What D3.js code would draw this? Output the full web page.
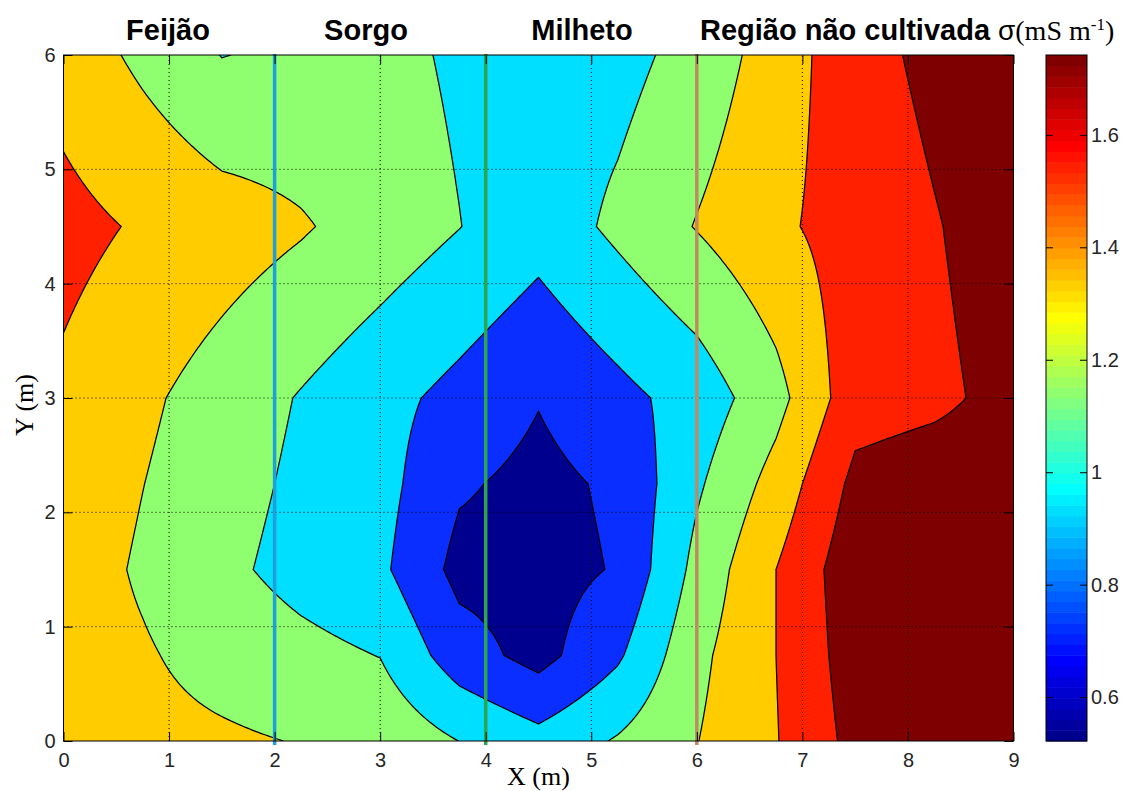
<!DOCTYPE html>
<html><head><meta charset="utf-8">
<script src="https://cdn.jsdelivr.net/npm/d3@7"></script>
<style>body{margin:0;background:#fff}svg{display:block}</style>
</head><body><svg id="chart" width="1132" height="791"></svg>
<script>
// ---------- data ----------
const xNodes = [0, 0.75, 1.5, 2.25, 3, 3.75, 4.5, 5.25, 6, 6.75, 7.5, 8.25, 9];
const yNodes = [0, 0.75, 1.5, 2.25, 3, 4.5, 6];
const sigmaY0   = [1.280, 1.256, 1.228, 1.192, 1.152, 0.998, 0.867, 1.018, 1.195, 1.390, 1.660, 1.720, 1.740];
const sigmaY075 = [1.290, 1.220, 1.130, 1.060, 0.995, 0.690, 0.530, 0.770, 1.150, 1.400, 1.700, 1.730, 1.740];
const sigmaY15  = [1.303, 1.174, 1.046, 0.930, 0.840, 0.540, 0.522, 0.615, 1.060, 1.400, 1.730, 1.740, 1.720];
const sigmaY225 = [1.330, 1.203, 1.080, 0.960, 0.870, 0.625, 0.545, 0.633, 0.970, 1.275, 1.650, 1.700, 1.700];
const sigmaY3   = [1.362, 1.237, 1.112, 0.987, 0.865, 0.740, 0.610, 0.743, 0.880, 1.132, 1.520, 1.560, 1.660];
const sigmaY45  = [1.462, 1.377, 1.298, 1.219, 1.116, 1.004, 0.880, 1.044, 1.210, 1.365, 1.480, 1.588, 1.697];
const sigmaY6   = [1.320, 1.155, 0.995, 1.040, 1.060, 0.970, 0.900, 0.930, 1.076, 1.292, 1.530, 1.647, 1.742];
const contourLevels = [0.6, 0.8, 1.0, 1.2, 1.4, 1.6];
const xTicks = [0, 1, 2, 3, 4, 5, 6, 7, 8, 9];
const yTicks = [0, 1, 2, 3, 4, 5, 6];
const colorbarTicks = [0.6, 0.8, 1.0, 1.2, 1.4, 1.6];
const sigmaRange = [0.522, 1.742];
const dividerX = [2, 4, 6];
const cropNames = ["Feijão", "Sorgo", "Milheto", "Região não cultivada"];

// ---------- styles ----------
const fillColors = ["#00008F", "#0A2EFF", "#00DFFF", "#8FFF6F", "#FFCC00", "#FF2000", "#7F0000"];
const dividerColors = ["#1EA0DC", "#2BA54E", "#C08A62"];
const sans = "'Liberation Sans', Arial, Helvetica, sans-serif";
const serif = "'Liberation Serif', 'Times New Roman', serif";

const svg = d3.select("#chart");
const x = d3.scaleLinear().domain([0, 9]).range([63.5, 1013.5]);
const y = d3.scaleLinear().domain([0, 6]).range([741, 55]);

// ---------- sampled surface for the contour routine ----------
const rows = [sigmaY0, sigmaY075, sigmaY15, sigmaY225, sigmaY3, sigmaY45, sigmaY6];
function sample(px, py) {
  const i = Math.min(Math.max(d3.bisectRight(xNodes, px) - 1, 0), xNodes.length - 2);
  const j = Math.min(Math.max(d3.bisectRight(yNodes, py) - 1, 0), yNodes.length - 2);
  const s = (px - xNodes[i]) / (xNodes[i + 1] - xNodes[i]);
  const t = (py - yNodes[j]) / (yNodes[j + 1] - yNodes[j]);
  const a = rows[j][i], b = rows[j][i + 1], c = rows[j + 1][i], d = rows[j + 1][i + 1];
  return a * (1 - s) * (1 - t) + b * s * (1 - t) + c * (1 - s) * t + d * s * t;
}
const h = 0.025;
const nx = Math.round(9 / h) + 1, ny = Math.round(6 / h) + 1;
const values = new Float64Array(nx * ny);
for (let j = 0; j < ny; j++) for (let i = 0; i < nx; i++) values[j * nx + i] = sample(i * h, j * h);

const contours = d3.contours().size([nx, ny]).thresholds(contourLevels)(values);
const proj = d3.geoTransform({
  point(px, py) { this.stream.point(x((px - 0.5) * h), y((py - 0.5) * h)); }
});
const path = d3.geoPath(proj);

svg.append("defs").append("clipPath").attr("id", "plotClip")
  .append("rect").attr("x", x(0)).attr("y", y(6)).attr("width", x(9) - x(0)).attr("height", y(0) - y(6));

const plot = svg.append("g").attr("clip-path", "url(#plotClip)");
plot.append("rect").attr("x", x(0)).attr("y", y(6)).attr("width", x(9) - x(0)).attr("height", y(0) - y(6))
  .attr("fill", fillColors[0]);
plot.selectAll("path.band").data(contours).join("path").attr("class", "band")
  .attr("d", path).attr("fill", (d, i) => fillColors[i + 1])
  .attr("stroke", "#000").attr("stroke-width", 1.25).attr("stroke-linejoin", "round");

// dotted grid
const grid = svg.append("g").attr("stroke", "#000").attr("stroke-width", 1).attr("stroke-dasharray", "1,3");
grid.selectAll("line.gx").data(xTicks.slice(1, -1)).join("line")
  .attr("x1", d => x(d)).attr("x2", d => x(d)).attr("y1", y(0)).attr("y2", y(6));
grid.selectAll("line.gy").data(yTicks.slice(1, -1)).join("line")
  .attr("y1", d => y(d)).attr("y2", d => y(d)).attr("x1", x(0)).attr("x2", x(9));

// divider lines
svg.selectAll("line.div").data(dividerX).join("line")
  .attr("x1", d => x(d)).attr("x2", d => x(d)).attr("y1", y(6) - 1).attr("y2", y(0) + 4)
  .attr("stroke", (d, i) => dividerColors[i]).attr("stroke-width", 3.5);

// axes box + ticks
function styleAxis(g, labels) {
  g.select(".domain").remove();
  g.selectAll(".tick line").attr("stroke", "#000");
  g.selectAll(".tick text").attr("font-family", sans).attr("font-size", 20).attr("fill", "#262626");
  if (!labels) g.selectAll(".tick text").remove();
}
const fmt = d3.format("~g");
svg.append("g").attr("transform", `translate(0,${y(0)})`)
  .call(d3.axisBottom(x).tickValues(xTicks).tickFormat(fmt).tickSize(-9).tickPadding(12)).call(g => styleAxis(g, true));
svg.append("g").attr("transform", `translate(0,${y(6)})`)
  .call(d3.axisTop(x).tickValues(xTicks).tickSize(-9)).call(g => styleAxis(g, false));
svg.append("g").attr("transform", `translate(${x(0)},0)`)
  .call(d3.axisLeft(y).tickValues(yTicks).tickFormat(fmt).tickSize(-9).tickPadding(8)).call(g => styleAxis(g, true));
svg.append("g").attr("transform", `translate(${x(9)},0)`)
  .call(d3.axisRight(y).tickValues(yTicks).tickSize(-9)).call(g => styleAxis(g, false));
svg.append("rect").attr("x", x(0)).attr("y", y(6)).attr("width", x(9) - x(0)).attr("height", y(0) - y(6))
  .attr("fill", "none").attr("stroke", "#000").attr("stroke-width", 1);

// axis labels
svg.append("text").attr("x", (x(0) + x(9)) / 2).attr("y", 785).attr("text-anchor", "middle")
  .attr("font-family", serif).attr("font-size", 26).text("X (m)");
svg.append("text").attr("transform", `translate(33,${(y(0) + y(6)) / 2 + 7}) rotate(-90)`).attr("text-anchor", "middle")
  .attr("font-family", serif).attr("font-size", 26).text("Y (m)");

// crop titles
const titleX = [168, 366, 582, 845];
svg.selectAll("text.crop").data(cropNames).join("text").attr("class", "crop")
  .attr("x", (d, i) => titleX[i]).attr("y", 40).attr("text-anchor", "middle")
  .attr("font-family", sans).attr("font-weight", "bold").attr("font-size", 29).attr("fill", "#000")
  .text(d => d);

// colorbar (jet, 64 colours)
function jet(v) {
  const m = 64;
  const idx = Math.min(m, Math.max(1, Math.floor(v * (m - 1) + 1e-9) + 1));
  const u = k => k <= 16 ? k / 16 : (k <= 31 ? 1 : (k <= 47 ? (48 - k) / 16 : 0));
  const r = idx >= 25 ? u(idx - 24) : 0;
  const g = (idx >= 9 && idx <= 55) ? u(idx - 8) : 0;
  const b = idx <= 39 ? u(idx + 8) : 0;
  return d3.rgb(r * 255, g * 255, b * 255);
}
const cbX0 = 1046, cbX1 = 1087;
const cy = d3.scaleLinear().domain(sigmaRange).range([741, 55]);
const bands = d3.range(64);
const bandH = (sigmaRange[1] - sigmaRange[0]) / 64;
svg.selectAll("rect.cb").data(bands).join("rect").attr("class", "cb")
  .attr("x", cbX0).attr("width", cbX1 - cbX0)
  .attr("y", d => cy(sigmaRange[0] + (d + 1) * bandH))
  .attr("height", d => cy(sigmaRange[0] + d * bandH) - cy(sigmaRange[0] + (d + 1) * bandH) + 0.5)
  .attr("fill", d => jet(d / 63));
svg.append("g").attr("transform", `translate(${cbX1},0)`)
  .call(d3.axisRight(cy).tickValues(colorbarTicks).tickFormat(fmt).tickSize(-7).tickPadding(4))
  .call(g => styleAxis(g, true));
svg.append("g").attr("transform", `translate(${cbX0},0)`)
  .call(d3.axisLeft(cy).tickValues(colorbarTicks).tickSize(-7)).call(g => styleAxis(g, false));
svg.append("rect").attr("x", cbX0).attr("y", cy(sigmaRange[1])).attr("width", cbX1 - cbX0)
  .attr("height", cy(sigmaRange[0]) - cy(sigmaRange[1])).attr("fill", "none").attr("stroke", "#000");

// colorbar title
const ct = svg.append("text").attr("x", 998).attr("y", 40).attr("font-family", serif).attr("font-size", 28);
ct.append("tspan").attr("font-family", sans).text("σ");
ct.append("tspan").text("(mS m");
ct.append("tspan").attr("dy", -10).attr("font-size", 17).text("-1");
ct.append("tspan").attr("dy", 10).text(")");
</script></body></html>
